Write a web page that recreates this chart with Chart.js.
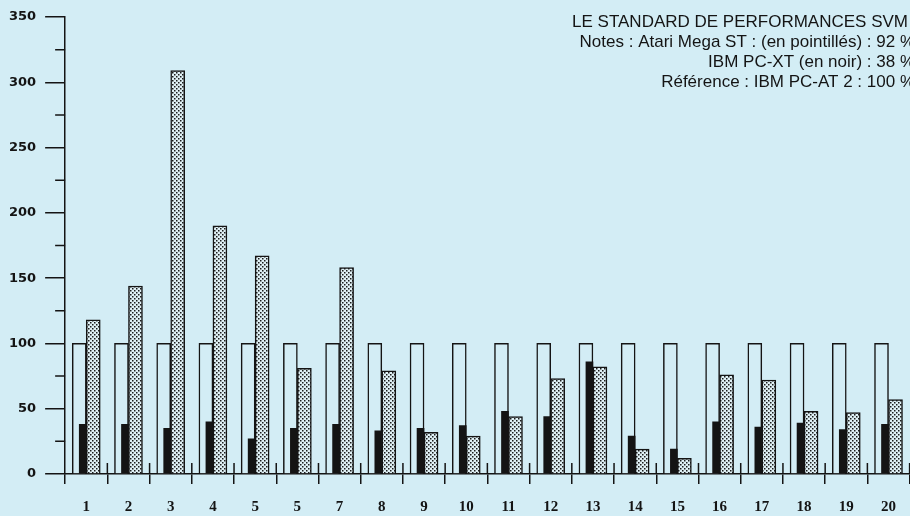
<!DOCTYPE html>
<html>
<head>
<meta charset="utf-8">
<script src="https://cdn.jsdelivr.net/npm/chart.js@4.4.1/dist/chart.umd.min.js"></script>
<style>
  body { margin: 0; background: #d3edf5; }
  #wrap { width: 910px; height: 516px; position: relative; }
</style>
</head>
<body>
<div id="wrap"><canvas id="barchart"></canvas></div>
<script>
// tests 1 a 20 (the sixth one is printed "5" in the magazine)
let labels = ['1', '2', '3', '4', '5', '5', '7', '8', '9', '10', '11', '12', '13', '14', '15', '16', '17', '18', '19', '20']
let reference = [100, 100, 100, 100, 100, 100, 100, 100, 100, 100, 100, 100, 100, 100, 100, 100, 100, 100, 100, 100] // IBM PC-AT 2
let pcxt = [38, 38, 35, 40, 27, 35, 38, 33, 35, 37, 48, 44, 86, 29, 19, 40, 36, 39, 34, 38] // en noir
let atari = [118, 144, 309, 190, 167, 81, 158, 79, 32, 29, 44, 73, 82, 19, 12, 76, 72, 48, 47, 57] // en pointillés
let notes = [
	'LE STANDARD DE PERFORMANCES SVM',
	'Notes : Atari Mega ST : (en pointillés) : 92 %',
	'IBM PC-XT (en noir) : 38 %',
	'Référence : IBM PC-AT 2 : 100 %'
]

let ink = '#141414'
let paper = '#d3edf5'

let ctx = document.getElementById('barchart').getContext('2d')

// little tile for the dotted bars
let tile = document.createElement('canvas')
tile.width = 4
tile.height = 4
let tc = tile.getContext('2d')
tc.fillStyle = '#dff0f5'
tc.fillRect(0, 0, 4, 4)
tc.fillStyle = '#1c1c1c'
tc.fillRect(0, 0, 1.5, 1.5)
tc.fillRect(2, 2, 1.5, 1.5)
let dots = ctx.createPattern(tile, 'repeat')

// ticks crossing the x axis, short ticks on the y axis and the caption
let marks = {
	id: 'marks',
	afterDraw(chart) {
		let c = chart.ctx
		let x = chart.scales.x
		let y = chart.scales.y
		let y0 = y.getPixelForValue(0)
		let half = (x.getPixelForValue(1) - x.getPixelForValue(0)) / 2
		c.save()
		c.strokeStyle = ink
		c.lineWidth = 1.5
		c.beginPath()
		for (let i = 0; i < labels.length; i++) {
			let px = x.getPixelForValue(i) + half
			c.moveTo(px, y0 - 11)
			c.lineTo(px, y0)
		}
		for (let i = 0; i < y.ticks.length - 1; i++) {
			let py = y.getPixelForValue((y.ticks[i].value + y.ticks[i + 1].value) / 2)
			c.moveTo(y.right - 10, py)
			c.lineTo(y.right, py)
		}
		c.stroke()
		c.fillStyle = ink
		c.font = '17px "Liberation Sans"'
		c.textAlign = 'right'
		notes.forEach((line, i) => c.fillText(line, i == 0 ? 908 : 915, 27 + i * 20))
		c.restore()
	}
}

let chart = new Chart(ctx, {
	type: 'bar',
	data: {
		labels: labels,
		datasets: [{
			label: 'IBM PC-XT',
			data: pcxt,
			stack: 'ref',
			order: 0,
			barThickness: 7,
			backgroundColor: ink,
			borderWidth: 0
		}, {
			label: 'IBM PC-AT 2',
			data: reference,
			stack: 'ref',
			order: 1,
			barThickness: 14,
			backgroundColor: paper,
			borderColor: ink,
			borderWidth: 1.5
		}, {
			label: 'Atari Mega ST',
			data: atari,
			stack: 'st',
			order: 2,
			barThickness: 14,
			backgroundColor: dots,
			borderColor: ink,
			borderWidth: 1.5
		}]
	},
	options: {
		responsive: true,
		maintainAspectRatio: false,
		animation: false,
		layout: { padding: { top: 17, left: 0, right: 0, bottom: -14 } },
		plugins: {
			legend: { display: false },
			tooltip: { enabled: false }
		},
		scales: {
			x: {
				grid: { drawOnChartArea: false, tickLength: 10, color: ink, lineWidth: 1.5 },
				border: { color: ink, width: 1.5 },
				ticks: {
					color: ink,
					padding: 14,
					maxRotation: 0,
					autoSkip: false,
					font: { family: '"Liberation Serif"', size: 15, weight: 'bold' }
				}
			},
			y: {
				stacked: false,
				min: 0,
				max: 350,
				grid: { drawOnChartArea: false, tickLength: 20, color: ink, lineWidth: 1.5 },
				border: { color: ink, width: 1.5 },
				ticks: {
					stepSize: 50,
					color: ink,
					padding: 9,
					font: { family: '"DejaVu Sans"', size: 13, weight: 'bold' }
				}
			}
		}
	},
	plugins: [marks]
})
</script>
</body>
</html>
